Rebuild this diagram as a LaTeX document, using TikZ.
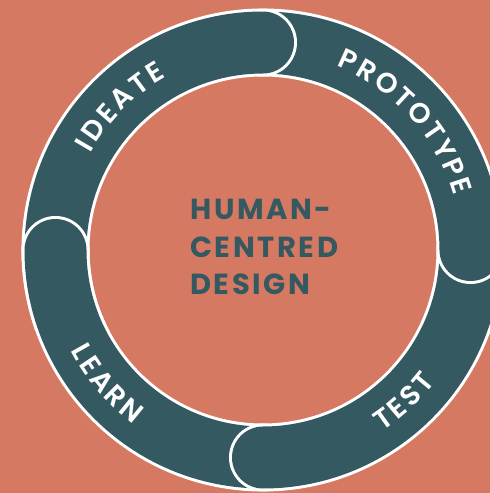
\documentclass[tikz,border=0pt]{standalone}
\usepackage{fontspec}
\newfontfamily\hcdfont{Poppins}[LetterSpace=9]
\newfontfamily\hcdlabelfont{Poppins}[BoldFont=* SemiBold]
\usetikzlibrary{decorations.text}

\definecolor{bgsalmon}{RGB}{214,121,98}
\definecolor{ringteal}{RGB}{53,89,97}

% one ring segment: white rim, then teal band, both with round ends
\newcommand{\hcdsegment}[2]{%
  \draw[rim] (#1:207.5) arc[start angle=#1, end angle=#2, radius=207.5];
  \draw[band] (#1:207.5) arc[start angle=#1, end angle=#2, radius=207.5];
}

\begin{document}
\begin{tikzpicture}[x=1pt, y=1pt,
  rim/.style={draw=white, line width=68pt, line cap=round},
  band/.style={draw=ringteal, line width=62pt, line cap=round},
  ringlabel/.style={decorate, decoration={text along path, text align=center,
    text color=white, text={|\hcdlabelfont\bfseries\fontsize{28}{28}\selectfont|#1}}}]
  % Canvas
  \clip (-263,-243) rectangle (227,250);
  \fill[bgsalmon] (-263,-243) rectangle (227,250);

  % Segments
  \hcdsegment{270}{180} % learn
  \hcdsegment{0}{-90}   % test
  \hcdsegment{90}{0}    % prototype
  \hcdsegment{180}{90}  % ideate
  \begin{scope}
    \clip (-263,-80) rectangle (-100,120);
    \hcdsegment{270}{180} % learn again, over the start of ideate
  \end{scope}

  % Labels (letters spread with small kerns)
  \path[ringlabel={I{\kern3pt}D{\kern3pt}E{\kern3pt}A{\kern3pt}T{\kern3pt}E}]
    (175:198) arc[start angle=175, end angle=95, radius=198];
  \path[ringlabel={P{\kern2.5pt}R{\kern2.5pt}O{\kern2.5pt}T{\kern2.5pt}O{\kern2.5pt}T{\kern2.5pt}Y{\kern2.5pt}P{\kern2.5pt}E}]
    (83:198) arc[start angle=83, end angle=1, radius=198];
  \path[ringlabel={T{\kern3pt}E{\kern3pt}S{\kern3pt}T}]
    (-87:217) arc[start angle=-87, end angle=-7, radius=217];
  \path[ringlabel={L{\kern3pt}E{\kern3pt}A{\kern3pt}R{\kern3pt}N}]
    (180.5:217) arc[start angle=180.5, end angle=260.5, radius=217];

  % Centre
  \node (hcd) [anchor=west, inner sep=0, align=left, text=ringteal,
    font=\hcdfont\bfseries\fontsize{29}{37.5}\selectfont] at (-73,3) {HUMAN-\\CENTRED\\DESIGN};
\end{tikzpicture}
\end{document}
